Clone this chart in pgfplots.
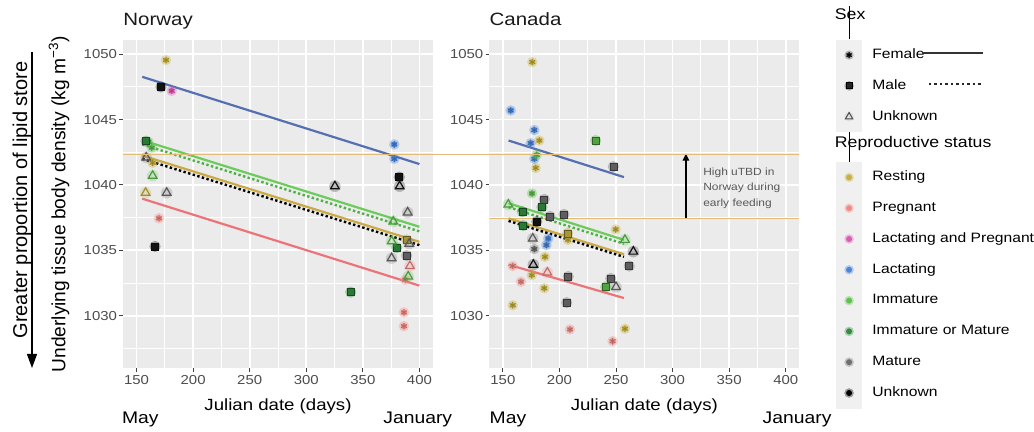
\documentclass[border=0pt]{standalone}
\usepackage{fontspec}
\setmainfont{Liberation Sans}[FakeStretch=1.15]
\newfontfamily\rotfont{Liberation Sans}
\usepackage{pgfplots}
\pgfplotsset{compat=1.18}
\usetikzlibrary{arrows.meta}

\definecolor{cRest}{HTML}{C8B13E}
\definecolor{cPreg}{HTML}{F08A84}
\definecolor{cLP}{HTML}{DA5CB4}
\definecolor{cLact}{HTML}{4C86DA}
\definecolor{cImm}{HTML}{5EC24E}
\definecolor{cIoM}{HTML}{2F8F3E}
\definecolor{cMat}{HTML}{6F6F6F}
\definecolor{cUnk}{HTML}{151515}
\definecolor{panelbg}{HTML}{EBEBEB}
\definecolor{keybg}{HTML}{F0F0F0}
\definecolor{hlcol}{RGB}{226,188,118}
\definecolor{lBlue}{HTML}{5570B2}
\definecolor{lRed}{HTML}{EC7479}
\definecolor{lGreen}{HTML}{6CCB5C}
\definecolor{lGreenD}{HTML}{4DB244}
\definecolor{lYel}{HTML}{C9AA45}

\pgfdeclareplotmark{hfem}{%
  \pgfpathcircle{\pgfpointorigin}{1.55\pgfplotmarksize}%
  \pgfsetfillopacity{0.35}\pgfusepathqfill\pgfsetfillopacity{1}%
  \pgfpathcircle{\pgfpointorigin}{0.9\pgfplotmarksize}\pgfusepathqfill
  \pgfuseplotmark{asterisk}}
\pgfdeclareplotmark{hsq}{%
  \pgfpathcircle{\pgfpointorigin}{1.6\pgfplotmarksize}%
  \pgfsetfillopacity{0.35}\pgfusepathqfill\pgfsetfillopacity{1}%
  \pgfuseplotmark{square*}}
\pgfdeclareplotmark{htri}{%
  \pgfpathcircle{\pgfpointorigin}{1.15\pgfplotmarksize}%
  \pgfsetfillopacity{0.25}\pgfusepathqfill\pgfsetfillopacity{1}%
  \pgfuseplotmark{triangle}}
\pgfdeclareplotmark{hdot}{%
  \pgfpathcircle{\pgfpointorigin}{1.6\pgfplotmarksize}%
  \pgfsetfillopacity{0.35}\pgfusepathqfill\pgfsetfillopacity{1}%
  \pgfpathcircle{\pgfpointorigin}{\pgfplotmarksize}\pgfusepathqfill}

\newcommand{\keybox}{\fill[keybg] (-6.25pt,-7.5pt) rectangle (6.25pt,7.5pt);}

\pgfplotsset{
  F/.style={only marks, forget plot, mark=hfem, mark size=1.7pt, mark options={solid, fill=#1, draw=#1!75!black, line width=0.4pt}},
  M/.style={only marks, forget plot, mark=hsq, mark size=1.75pt, mark options={solid, fill=#1!85!black, draw=#1!50!black, line width=0.3pt}},
  U/.style={only marks, forget plot, mark=htri, mark size=2.5pt, mark options={solid, fill=#1, draw=#1!80!black, line width=0.6pt}},
  SL/.style={forget plot, no markers, solid, line width=1.1pt, color=#1},
  DL/.style={forget plot, no markers, line width=1.2pt, dash pattern=on 1.2pt off 1.2pt, color=#1},
  kT/.style 2 args={legend image code/.code={\path (0pt,-#1) -- (0pt,#2);}},
  kF/.style={legend image code/.code={\keybox\draw[only marks,mark=hfem,mark size=1.5pt,mark options={fill=black!70,draw=black,line width=0.45pt}] plot coordinates {(0pt,0pt)};}},
  kM/.style={legend image code/.code={\keybox\draw[only marks,mark=hsq,mark size=1.5pt,mark options={fill=black!85,draw=black}] plot coordinates {(0pt,0pt)};}},
  kU/.style={legend image code/.code={\keybox\draw[only marks,mark=htri,mark size=2.1pt,mark options={fill=black!30,draw=black!70,line width=0.5pt}] plot coordinates {(0pt,0pt)};}},
  kS/.style={legend image code/.code={\keybox\draw[only marks,mark=hdot,mark size=1.5pt,mark options={fill=#1,draw=#1}] plot coordinates {(0pt,0pt)};}},
  panel/.style={
    scale only axis, width=155pt, height=163.75pt, anchor=south west,
    xmin=138, xmax=412, ymin=1026, ymax=1051.05,
    axis background/.style={fill=panelbg},
    axis line style={draw=none},
    xtick={150,200,...,400}, ytick={1030,1035,...,1050},
    minor xtick={175,225,275,325,375},
    minor ytick={1027.5,1032.5,1037.5,1042.5,1047.5},
    grid=both,
    major grid style={white, line width=0.9pt},
    minor grid style={white, line width=0.45pt},
    tick align=outside, tick pos=left,
    major tick length=1.8pt, minor tick length=0pt,
    major tick style={color=black!75, line width=0.5pt},
    tick label style={font=\fontsize{6.5}{7}\selectfont, text=black!70},
    yticklabel style={inner xsep=1pt},
    xticklabel style={inner ysep=1.5pt},
    /pgf/number format/assume math mode=true,
    /pgf/number format/1000 sep={},
    title style={at={(axis description cs:0,1)}, anchor=base west, yshift=1.7pt, inner sep=0pt, font=\fontsize{8.9}{10}\selectfont, text=black!90},
    xlabel={Julian date (days)},
    xlabel style={at={(axis description cs:0.5,-0.116)}, anchor=center, inner sep=0pt, font=\fontsize{8.1}{9}\selectfont},
  }
}

\begin{document}
\begin{tikzpicture}
\useasboundingbox (0,0) rectangle (517pt,216pt);

% ---------------- Norway ----------------
\begin{axis}[panel, at={(61.5pt,32pt)}, title={Norway},
  ylabel={Underlying tissue body density (kg m\textsuperscript{−3})},
  ylabel style={at={(axis description cs:-0.186,0.5)}, anchor=base, inner sep=0pt, font=\rotfont\fontsize{9.6}{10}\selectfont}]
\coordinate (hlA) at (axis cs:138,1042.36);

% points: Female
\addplot[F=cRest] coordinates {(176,1049.55) (164.2,1041.7)};
\addplot[F=cLP] coordinates {(181,1047.2)};
\addplot[F=cLact] coordinates {(377.8,1043.1) (377.8,1042.0)};
\addplot[F=cImm] coordinates {(163.4,1042.85) (160.5,1043.3)};
\addplot[F=cPreg] coordinates {(169.8,1037.45) (386.3,1030.25) (386.3,1029.2) (387.5,1032.75)};
% Male
\addplot[M=cUnk] coordinates {(171.6,1047.5) (166.3,1035.3) (382.2,1040.6)};
\addplot[M=cIoM] coordinates {(158.3,1043.35) (339.2,1031.8) (379.9,1035.2)};
\addplot[M=cRest] coordinates {(388.7,1035.8)};
\addplot[M=cMat] coordinates {(388.7,1034.6)};
% Unknown sex
\addplot[U=cMat] coordinates {(158.5,1042.1) (176.6,1039.4) (389.6,1037.9) (391,1035.5) (375.4,1034.4)};
\addplot[U=cImm] coordinates {(164.2,1040.7) (376.9,1037.2) (375.5,1035.7) (390.1,1033.0)};
\addplot[U=cRest] coordinates {(158,1039.4)};
\addplot[U=cUnk] coordinates {(325.3,1039.9) (382.5,1039.9)};
\addplot[U=cPreg] coordinates {(391.6,1033.8)};

% fitted lines
\addplot[SL=lBlue] coordinates {(155,1048.27) (400,1041.6)};
\addplot[SL=lGreen] coordinates {(155,1043.42) (400,1036.8)};
\addplot[DL=lGreenD] coordinates {(155,1043.1) (400,1036.45)};
\addplot[SL=lYel] coordinates {(155,1042.25) (400,1035.65)};
\addplot[DL=black] coordinates {(155,1042.0) (400,1035.4)};
\addplot[SL=lRed] coordinates {(155,1038.95) (400,1032.3)};
\end{axis}

% ---------------- Canada ----------------
\begin{axis}[panel, at={(244.65pt,32pt)}, title={Canada},
  legend style={at={(axis description cs:1.1177,1.1084)}, anchor=north west,
    draw=none, fill=none, inner sep=0pt, row sep=0pt, column sep=5.2pt,
    font=\fontsize{6.8}{8}\selectfont, cells={anchor=west}, nodes={inner sep=0pt}}]
\draw[draw=hlcol, line width=0.5pt] (axis cs:138,1037.45) -- (axis cs:412,1037.45);
\coordinate (hlB) at (axis cs:412,1042.36);

% points: Female
\addplot[F=cRest] coordinates {(176,1049.4) (182.2,1043.4) (179,1041.3) (249.7,1036.6) (187.2,1034.5) (175.5,1033.1) (186.6,1032.1) (158.7,1030.8) (257.9,1029.0) (207.5,1035.8)};
\addplot[F=cLact] coordinates {(156.9,1045.7) (177.8,1044.2) (174.6,1043.2) (177.8,1042.0) (190.1,1035.9) (188.5,1035.4)};
\addplot[F=cImm] coordinates {(179.9,1042.3) (175.7,1039.35)};
\addplot[F=cPreg] coordinates {(158.7,1033.8) (166,1032.6) (209.3,1028.95) (247,1028.05)};
\addplot[F=cMat] coordinates {(177.8,1035.1)};
% Male
\addplot[M=cMat] coordinates {(186.6,1038.9) (191.6,1037.6) (204,1037.75) (247.6,1041.4) (261.7,1033.8) (207.8,1033.0) (245.3,1032.85) (206.4,1031.0)};
\addplot[M=cIoM] coordinates {(167.2,1037.95) (168,1036.9) (184.5,1038.3)};
\addplot[M=cImm] coordinates {(232,1043.4) (240.9,1032.2)};
\addplot[M=cUnk] coordinates {(179.9,1037.2)};
\addplot[M=cRest] coordinates {(207.3,1036.3)};
% Unknown sex
\addplot[U=cImm] coordinates {(154.8,1038.5) (257.9,1035.8)};
\addplot[U=cUnk] coordinates {(265.3,1034.9) (176.9,1033.9)};
\addplot[U=cMat] coordinates {(176.4,1035.9) (250,1032.2)};
\addplot[U=cPreg] coordinates {(189.3,1033.3)};

% fitted lines
\addplot[SL=lBlue] coordinates {(155,1043.4) (257,1040.6)};
\addplot[SL=lGreen] coordinates {(155,1038.6) (257,1035.8)};
\addplot[DL=lGreenD] coordinates {(155,1038.3) (257,1035.5)};
\addplot[SL=lYel] coordinates {(155,1037.45) (257,1034.7)};
\addplot[DL=black] coordinates {(155,1037.25) (257,1034.5)};
\addplot[SL=lRed] coordinates {(155,1033.9) (257,1031.35)};

% annotation
\draw[black, line width=0.8pt, -{Triangle[length=3.5pt,width=3.2pt]}] (axis cs:311.8,1037.48) -- (axis cs:311.8,1042.4);
\node[anchor=west, align=left, inner sep=0pt, text=black!65, font=\fontsize{5.2}{7.7}\selectfont] at (axis cs:326.8,1039.75) {High uTBD in\\Norway during\\early feeding};

% legend
\addlegendimage{kT={11.75pt}{5pt}}
\addlegendentry{\makebox[0pt][l]{\kern-19.25pt\fontsize{7.7}{8}\selectfont Sex}}
\addlegendimage{kF}
\addlegendentry{\makebox[25pt][l]{Female}\textcolor{black!80}{\rule[2.3pt]{30.5pt}{0.9pt}}}
\addlegendimage{kM}
\addlegendentry{\makebox[25pt][l]{Male}{\color{black!85}\leaders\hbox to 2.75pt{\hss\rule[2.2pt]{1.2pt}{0.9pt}\hss}\hskip 30.5pt}}
\addlegendimage{kU}
\addlegendentry{Unknown}
\addlegendimage{kT={9.1pt}{5.45pt}}
\addlegendentry{\makebox[0pt][l]{\kern-19.25pt\fontsize{7.7}{8}\selectfont Reproductive status}}
\addlegendimage{kS=cRest}
\addlegendentry{Resting}
\addlegendimage{kS=cPreg}
\addlegendentry{Pregnant}
\addlegendimage{kS=cLP}
\addlegendentry{Lactating and Pregnant}
\addlegendimage{kS=cLact}
\addlegendentry{Lactating}
\addlegendimage{kS=cImm}
\addlegendentry{Immature}
\addlegendimage{kS=cIoM}
\addlegendentry{Immature or Mature}
\addlegendimage{kS=cMat}
\addlegendentry{Mature}
\addlegendimage{kS=black}
\addlegendentry{Unknown}
\end{axis}

\draw[draw=hlcol, line width=0.6pt] (hlA) -- (hlB);

% bottom month labels
\node[anchor=base west, inner sep=0pt, font=\fontsize{8.4}{9}\selectfont] at (60.85pt,4.25pt) {May};
\node[anchor=base west, inner sep=0pt, font=\fontsize{8.4}{9}\selectfont] at (191.5pt,4.25pt) {January};
\node[anchor=base west, inner sep=0pt, font=\fontsize{8.4}{9}\selectfont] at (244.65pt,4.25pt) {May};
\node[anchor=base west, inner sep=0pt, font=\fontsize{8.4}{9}\selectfont] at (381.15pt,4.25pt) {January};

% left annotation
\node[rotate=90, anchor=base, inner sep=0pt, font=\rotfont\fontsize{10}{11}\selectfont] at (13.5pt,116pt) {Greater proportion of lipid store};
\draw[black, line width=0.6pt, -{Triangle[length=7pt,width=5pt]}] (16pt,190pt) -- (16pt,32pt);
\end{tikzpicture}
\end{document}
